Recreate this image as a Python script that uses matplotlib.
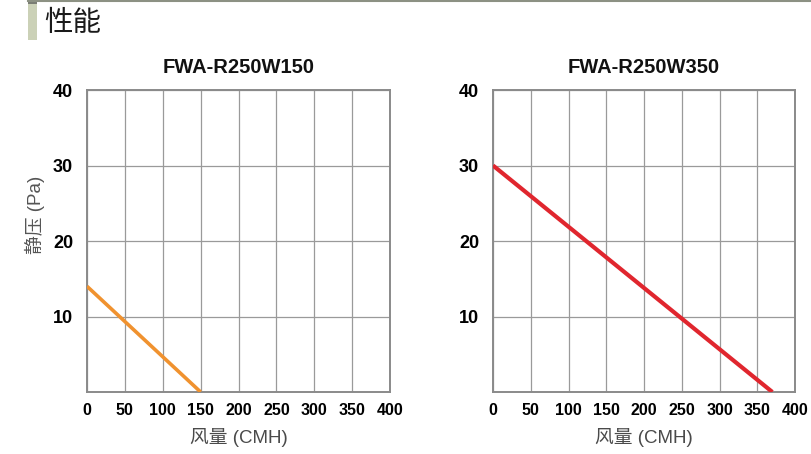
import matplotlib
matplotlib.use('Agg')
import matplotlib.pyplot as plt
from matplotlib.patches import Rectangle
from matplotlib.lines import Line2D

plt.rcParams['font.family'] = ['Liberation Sans', 'Noto Sans CJK SC', 'DejaVu Sans']

# datos
modelos = ['FWA-R250W150', 'FWA-R250W350']
caudal_150 = [0, 150]
presion_150 = [14, 0]
caudal_350 = [0, 370]
presion_350 = [30, 0]
colores = ['#f0922f', '#e0262e']
ticks_x = [0, 50, 100, 150, 200, 250, 300, 350, 400]
ticks_y = [10, 20, 30, 40]

fig = plt.figure(figsize=(8.11, 4.54), dpi=100)

# encabezado
fig.add_artist(Line2D([28/811, 1], [1 - 1/454, 1 - 1/454], color='#8c9183', lw=1.5))
fig.add_artist(Rectangle((28/811, 1 - 40/454), 9/811, 37/454, color='#cbd1b7', lw=0))
fig.add_artist(Rectangle((28/811, 1 - 4/454), 9/811, 4/454, color='#7a7d74', lw=0))
fig.text(44/811, 1 - 23/454, '性能', fontsize=20.5, color='#1a1a1a', va='center', ha='left',
         family=['Noto Sans CJK SC'])

posiciones = [[87/811, 1 - 392/454, 303/811, 302/454],
              [493/811, 1 - 392/454, 302/811, 302/454]]
datos = [(caudal_150, presion_150), (caudal_350, presion_350)]

for i in range(2):
    ax = fig.add_axes(posiciones[i])
    x, y = datos[i]
    ax.plot(x, y, color=colores[i], lw=2.6 if i == 0 else 3, solid_capstyle='butt', zorder=3)
    ax.set_xlim(0, 400)
    ax.set_ylim(0, 40)
    ax.set_xticks(ticks_x)
    ax.set_yticks(ticks_y)
    ax.set_xticklabels([str(t) for t in ticks_x], fontsize=11.5, fontweight='bold')
    ax.set_yticklabels([str(t) for t in ticks_y], fontsize=13, fontweight='bold')
    ax.tick_params(length=0, pad=8)
    ax.tick_params(axis='y', pad=10)
    ax.grid(True, color='#9a9a9a', lw=0.9)
    ax.set_axisbelow(True)
    for s in ax.spines.values():
        s.set_color('#8a8a8a')
        s.set_linewidth(1.4)
    ax.set_title(modelos[i], fontsize=14.5, fontweight='bold', color='#111111', pad=12)
    ax.set_xlabel('风量 (CMH)', fontsize=13.5, color='#4a4a4a', labelpad=7)
    if i == 0:
        ax.set_ylabel('静压 (Pa)', fontsize=13.5, color='#555555')
        ax.yaxis.set_label_coords(-0.14, 0.586)

fig.savefig('out.png', dpi=100)
